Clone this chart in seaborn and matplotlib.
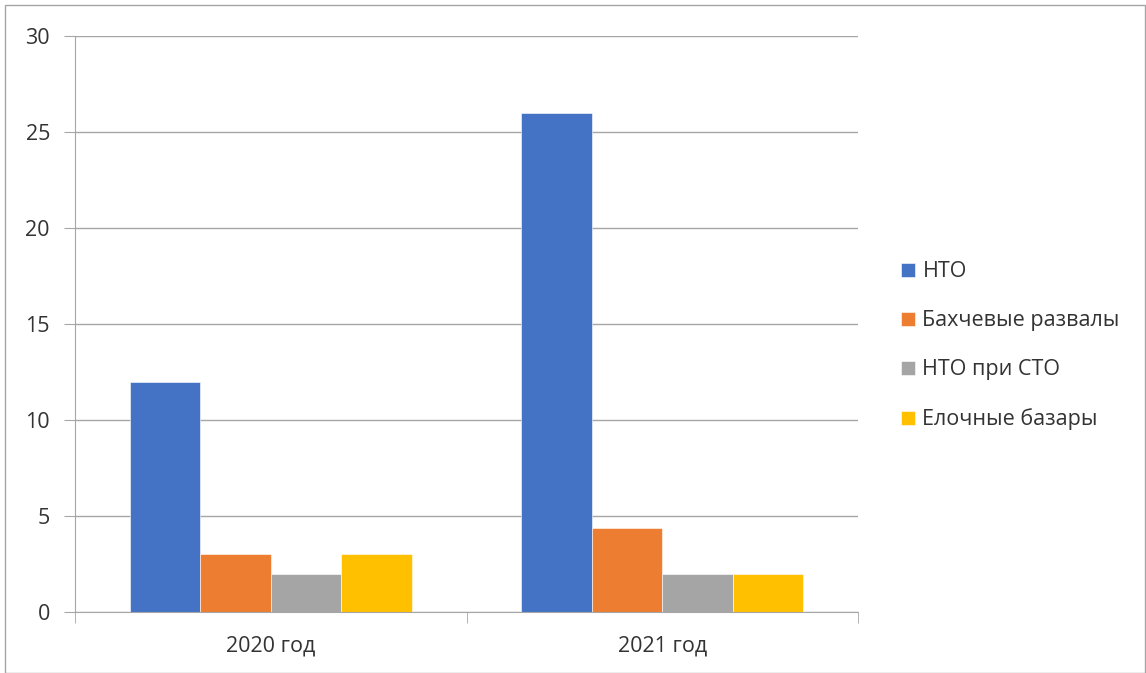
import pandas as pd
import matplotlib.pyplot as plt
import seaborn as sns
from matplotlib.patches import Rectangle

years = ["2020 год", "2021 год"]
series = ["НТО", "Бахчевые развалы", "НТО при СТО", "Елочные базары"]
nto = [12, 26]
bakhcha = [3, 4.4]
nto_sto = [2, 2]
elki = [3, 2]
colors = ["#4472c4", "#ed7d31", "#a5a5a5", "#ffc000"]

rows = []
for name, vals in zip(series, [nto, bakhcha, nto_sto, elki]):
    for y, v in zip(years, vals):
        rows.append({"year": y, "series": name, "value": v})
df = pd.DataFrame(rows)

sns.set_style("white")
plt.rcParams["font.family"] = ["Open Sans", "DejaVu Sans"]

fig = plt.figure(figsize=(11.46, 6.73), dpi=100)
ax = fig.add_axes([75 / 1146, 1 - 612 / 673, (858 - 75) / 1146, (612 - 36) / 673])

sns.barplot(data=df, x="year", y="value", hue="series", palette=colors,
            width=0.72, gap=0, saturation=1, ax=ax, legend=True,
            edgecolor="white", linewidth=0.4)

ax.set_ylim(0, 30)
ax.set_xlim(-0.5, 1.5)
ax.set_yticks(range(0, 31, 5))
ax.yaxis.grid(True, color="#a6a6a6", lw=1)
ax.set_axisbelow(True)
ax.set_xlabel("")
ax.set_ylabel("")

for s in ["top", "right"]:
    ax.spines[s].set_visible(False)
ax.spines["left"].set_color("#a6a6a6")
ax.spines["bottom"].set_color("#a6a6a6")

ax.tick_params(axis="y", length=8, color="#a6a6a6", labelsize=15.5, pad=10, left=True)
ax.tick_params(axis="x", length=0, labelsize=15.5, pad=17)
# category boundary ticks
ax.set_xticks([-0.5, 0.5, 1.5], minor=True)
ax.tick_params(axis="x", which="minor", length=8, color="#a6a6a6", bottom=True)
for lab in ax.get_yticklabels() + ax.get_xticklabels():
    lab.set_color("#333333")

handles, labels = ax.get_legend_handles_labels()
ax.legend(handles, labels, loc="center left", bbox_to_anchor=(1.03, 0.462),
          frameon=False, fontsize=15.5, labelspacing=1.3, handlelength=0.65,
          handleheight=0.65, handletextpad=0.35, labelcolor="#333333")

fig.patches.append(Rectangle((5 / 1146, 0), 1 - 6 / 1146, 1 - 5 / 673,
                             transform=fig.transFigure, fill=False,
                             edgecolor="#a6a6a6", lw=1))

fig.savefig("out.png", dpi=100)
